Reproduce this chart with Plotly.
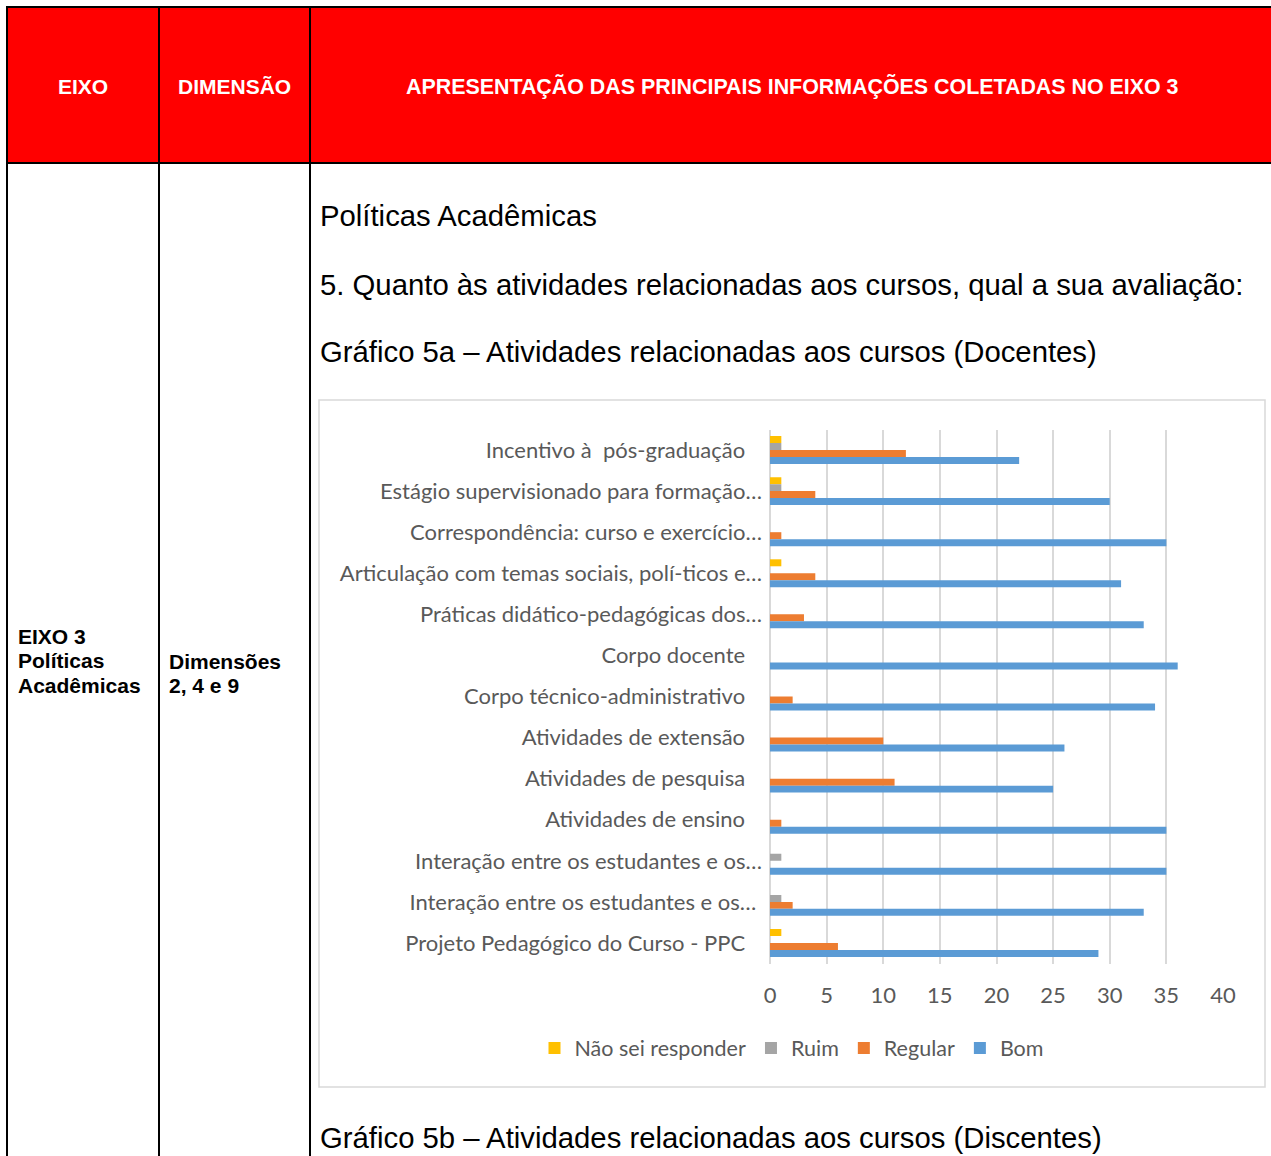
import plotly.graph_objects as go

# ---------------- data ----------------
categories = [
    "Incentivo à  pós-graduação",
    "Estágio supervisionado para formação…",
    "Correspondência: curso e exercício…",
    "Articulação com temas sociais, polí-ticos e…",
    "Práticas didático-pedagógicas dos…",
    "Corpo docente",
    "Corpo técnico-administrativo",
    "Atividades de extensão",
    "Atividades de pesquisa",
    "Atividades de ensino",
    "Interação entre os estudantes e os…",
    "Interação entre os estudantes e os… ",
    "Projeto Pedagógico do Curso - PPC",
]
nao_sei = [1, 1, 0, 1, 0, 0, 0, 0, 0, 0, 0, 0, 1]
ruim = [1, 1, 0, 0, 0, 0, 0, 0, 0, 0, 1, 1, 0]
regular = [12, 4, 1, 4, 3, 0, 2, 10, 11, 1, 0, 2, 6]
bom = [22, 30, 35, 31, 33, 36, 34, 26, 25, 35, 35, 33, 29]
series_names = ["Não sei responder", "Ruim", "Regular", "Bom"]
series_colors = ["#FFC000", "#A5A5A5", "#ED7D31", "#5B9BD5"]
x_tick_vals = [0, 5, 10, 15, 20, 25, 30, 35, 40]

W, H = 1271, 1156


def px(x):
    return x / W


def py(y):
    return 1 - y / H


# tick text: labels not truncated sit a bit further from the axis
tick_text = [c if c.strip().endswith("…") else c + "\u00a0\u00a0\u00a0" for c in categories]

fig = go.Figure()
for name, vals, col in zip(series_names, [nao_sei, ruim, regular, bom], series_colors):
    fig.add_trace(go.Bar(
        y=categories, x=vals, name=name, orientation="h",
        marker=dict(color=col, line=dict(width=0)),
        hoverinfo="x+name",
    ))

chart_font = "Lato, 'Open Sans', sans-serif"
doc_font = "Arial, 'Liberation Sans', sans-serif"
CF = 22

fig.update_layout(
    width=W, height=H,
    margin=dict(l=0, r=0, t=0, b=0, autoexpand=False),
    paper_bgcolor="white", plot_bgcolor="white",
    barmode="group", bargap=0.32, bargroupgap=0,
    showlegend=True,
    legend=dict(orientation="h", x=px(792), y=py(1048), xanchor="center", yanchor="middle",
                font=dict(family=chart_font, size=21.5, color="#595959"),
                bgcolor="rgba(0,0,0,0)", traceorder="normal", itemclick=False),
    xaxis=dict(domain=[px(770), px(1223)], range=[0, 40], tickvals=x_tick_vals, automargin=False,
               showgrid=True, gridcolor="#D9D9D9", gridwidth=1.5,
               zeroline=True, zerolinecolor="#D9D9D9", zerolinewidth=1.5,
               showline=False, ticks="", ticklabelstandoff=16,
               tickfont=dict(family=chart_font, size=CF, color="#595959"), fixedrange=True),
    yaxis=dict(domain=[py(963.5), py(429.5)], autorange="reversed", type="category", automargin=False,
               tickvals=categories, ticktext=tick_text,
               showgrid=False, showline=False, ticks="", ticklabelstandoff=7,
               tickfont=dict(family=chart_font, size=CF, color="#595959"), fixedrange=True),
)

shapes = []
# header red fill
shapes.append(dict(type="rect", xref="paper", yref="paper", x0=px(7), x1=px(1272), y0=py(163), y1=py(7),
                   fillcolor="#FF0000", line=dict(width=0), layer="below"))
# chart box
shapes.append(dict(type="rect", xref="paper", yref="paper", x0=px(319), x1=px(1265), y0=py(1087), y1=py(400),
                   fillcolor="rgba(0,0,0,0)", line=dict(color="#D9D9D9", width=1.5), layer="below"))
# table lines
for xv in [7, 159, 310]:
    shapes.append(dict(type="line", xref="paper", yref="paper", x0=px(xv), x1=px(xv), y0=py(1160), y1=py(6),
                       line=dict(color="black", width=2)))
for yv in [7, 163]:
    shapes.append(dict(type="line", xref="paper", yref="paper", x0=px(6), x1=px(1275), y0=py(yv), y1=py(yv),
                       line=dict(color="black", width=2)))
fig.update_layout(shapes=shapes)

ann = []


def text(x, y, s, size, color="black", bold=False, anchor="left", family=doc_font):
    ann.append(dict(xref="paper", yref="paper", x=px(x), y=py(y), text=("<b>%s</b>" % s) if bold else s,
                    showarrow=False, xanchor=anchor, yanchor="middle",
                    font=dict(family=family, size=size, color=color)))


text(83, 86, "EIXO", 21, "white", True, "center")
text(234, 86, "DIMENSÃO", 21, "white", True, "center")
text(792, 86, "APRESENTAÇÃO DAS PRINCIPAIS INFORMAÇÕES COLETADAS NO EIXO 3", 21.4, "white", True, "center")
text(16, 636, "EIXO 3", 21, "black", True)
text(16, 660, "Políticas", 21, "black", True)
text(16, 685, "Acadêmicas", 21, "black", True)
text(167, 661, "Dimensões", 21, "black", True)
text(167, 685, "2, 4 e 9", 21, "black", True)
text(318, 216, "Políticas Acadêmicas", 29.3)
text(318, 284, "5. Quanto às atividades relacionadas aos cursos, qual a sua avaliação:", 29.3)
text(318, 351, "Gráfico 5a – Atividades relacionadas aos cursos (Docentes)", 29.3)
text(318, 1137, "Gráfico 5b – Atividades relacionadas aos cursos (Discentes)", 29.3)
fig.update_layout(annotations=ann)

fig.write_html("out.html", config=dict(displayModeBar=False),
               post_script="document.body.style.margin='0';document.body.style.overflow='hidden';")
